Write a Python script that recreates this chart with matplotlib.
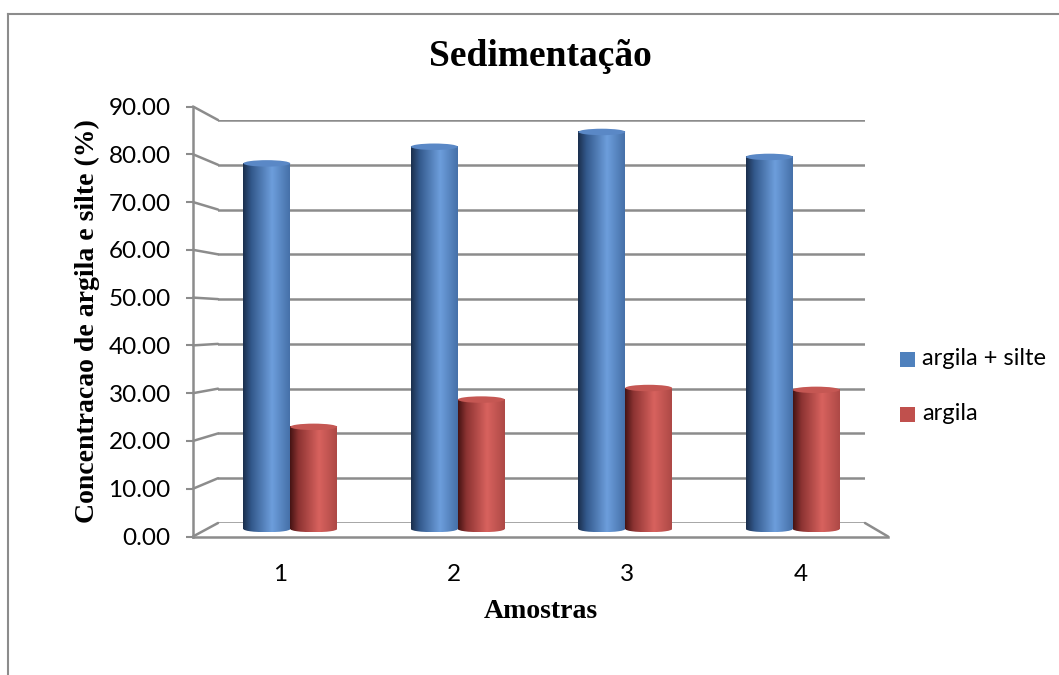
import numpy as np
import matplotlib
matplotlib.use("Agg")
import matplotlib.pyplot as plt
from matplotlib.colors import LinearSegmentedColormap
from matplotlib.patches import Ellipse, Rectangle, ConnectionPatch
from matplotlib.lines import Line2D

# ---- data ----
categories = ["1", "2", "3", "4"]
argila_silte = [79.1, 82.7, 85.9, 80.5]
argila = [22.1, 28.0, 30.5, 30.1]
series_names = ["argila + silte", "argila"]
yticks = [0, 10, 20, 30, 40, 50, 60, 70, 80, 90]
title = "Sedimentação"
xlabel = "Amostras"
ylabel = "Concentracao de argila e silte (%)"

W, H = 1059, 675
fig = plt.figure(figsize=(W / 100, H / 100), dpi=100)
fig.patch.set_facecolor("white")

def box(x0, x1, y0px, y90px):
    # pixel box -> figure fraction rect
    return [x0 / W, 1 - y0px / H, (x1 - x0) / W, (y0px - y90px) / H]

serif = "Liberation Serif"
sans = "Lato"
grid_c = "#8c8c8c"

# back wall (gridlines)
ax_back = fig.add_axes(box(218, 865, 523, 120))
ax_back.set_xlim(0.5, 4.5)
ax_back.set_ylim(0, 90)
ax_back.axis("off")
for v in yticks:
    ax_back.axhline(v, color=grid_c, lw=1.8, zorder=1)

# front axis
ax_front = fig.add_axes(box(193, 888, 536.5, 106.5))
ax_front.set_facecolor("none")
ax_front.set_xlim(0.5, 4.5)
ax_front.set_ylim(0, 90)
for s in ["top", "right"]:
    ax_front.spines[s].set_visible(False)
for s in ["left", "bottom"]:
    ax_front.spines[s].set_color(grid_c)
    ax_front.spines[s].set_linewidth(1.8)
ax_front.set_yticks(yticks)
ax_front.set_yticklabels([f"{v:.2f}" for v in yticks], fontfamily=sans, fontsize=17.5)
ax_front.tick_params(axis="y", length=5, width=1.5, color=grid_c, pad=11)
ax_front.set_xticks(range(1, len(categories) + 1))
ax_front.set_xticklabels(categories, fontfamily=sans, fontsize=17.5)
ax_front.tick_params(axis="x", length=0, pad=20)

# connectors front -> back
for v in yticks:
    cp = ConnectionPatch(xyA=(0, v), coordsA=ax_front.get_yaxis_transform(),
                         xyB=(0, v), coordsB=ax_back.get_yaxis_transform(),
                         color=grid_c, lw=1.8)
    fig.add_artist(cp)
cp = ConnectionPatch(xyA=(1, 0), coordsA=ax_front.transAxes,
                     xyB=(1, 0), coordsB=ax_back.transAxes, color=grid_c, lw=1.8)
fig.add_artist(cp)

# bars (mid depth); y range extends a little below 0 so the rounded base is visible
scale = (529 - 113) / 90.0
ymin = -3
ax_bars = fig.add_axes(box(206.5, 876.5, 529 - ymin * scale, 113))
ax_bars.set_facecolor("none")
ax_bars.axis("off")

cm_blue = LinearSegmentedColormap.from_list(
    "b", [(0, "#1a2e4c"), (0.18, "#33598c"), (0.62, "#6d9edc"), (1.0, "#4570a8")])
cm_red = LinearSegmentedColormap.from_list(
    "r", [(0, "#451313"), (0.18, "#8c3332"), (0.62, "#d8625e"), (1.0, "#ad4946")])
top_cols = ["#5a88c6", "#c55753"]
grad = np.linspace(0, 1, 256)[None, :]
bw = 0.28
e = 0.7  # half-height of ellipse in data units

x = np.arange(1, len(categories) + 1)
for si, (vals, cmap) in enumerate([(argila_silte, cm_blue), (argila, cm_red)]):
    for xi, h in zip(x, vals):
        x0 = xi - bw + si * bw
        x1 = x0 + bw
        xc = (x0 + x1) / 2
        ax_bars.imshow(grad, cmap=cmap, extent=[x0, x1, 0, h], aspect="auto",
                       interpolation="bilinear", zorder=3)
        bot = ax_bars.imshow(grad, cmap=cmap, extent=[x0, x1, -e, e], aspect="auto",
                             interpolation="bilinear", zorder=3)
        clip = Ellipse((xc, 0), bw, 2 * e, facecolor="none", edgecolor="none")
        ax_bars.add_patch(clip)
        bot.set_clip_path(clip)
        ax_bars.add_patch(Ellipse((xc, h), bw, 2 * e, facecolor=top_cols[si],
                                  edgecolor="none", zorder=4))
ax_bars.set_xlim(0.5, 4.5)
ax_bars.set_ylim(ymin, 90)

# titles
fig.text(540 / W, 1 - 57 / H, title, fontfamily=serif, fontweight="bold",
         fontsize=27, ha="center", va="center")
fig.text(541 / W, 1 - 612 / H, xlabel, fontfamily=serif, fontweight="bold",
         fontsize=20, ha="center", va="center")
fig.text(87 / W, 1 - 321 / H, ylabel, fontfamily=serif, fontweight="bold",
         fontsize=20, ha="center", va="center", rotation=90)

# legend
leg_cols = ["#4f81bd", "#c0504d"]
for i, (name, c) in enumerate(zip(series_names, leg_cols)):
    yc = 359 + i * 55
    fig.add_artist(Rectangle((900 / W, 1 - (yc + 7.5) / H), 15 / W, 15 / H,
                             transform=fig.transFigure, facecolor=c, edgecolor="none"))
    fig.text(922 / W, 1 - yc / H, name, fontfamily=sans, fontsize=17,
             ha="left", va="center")

# chart frame
fig.add_artist(Line2D([8 / W, 8 / W], [0, 1 - 14 / H], transform=fig.transFigure,
                      color="#8c8c8c", lw=1.5))
fig.add_artist(Line2D([8 / W, 1], [1 - 14 / H, 1 - 14 / H], transform=fig.transFigure,
                      color="#8c8c8c", lw=1.5))

fig.savefig("out.png", dpi=100)
